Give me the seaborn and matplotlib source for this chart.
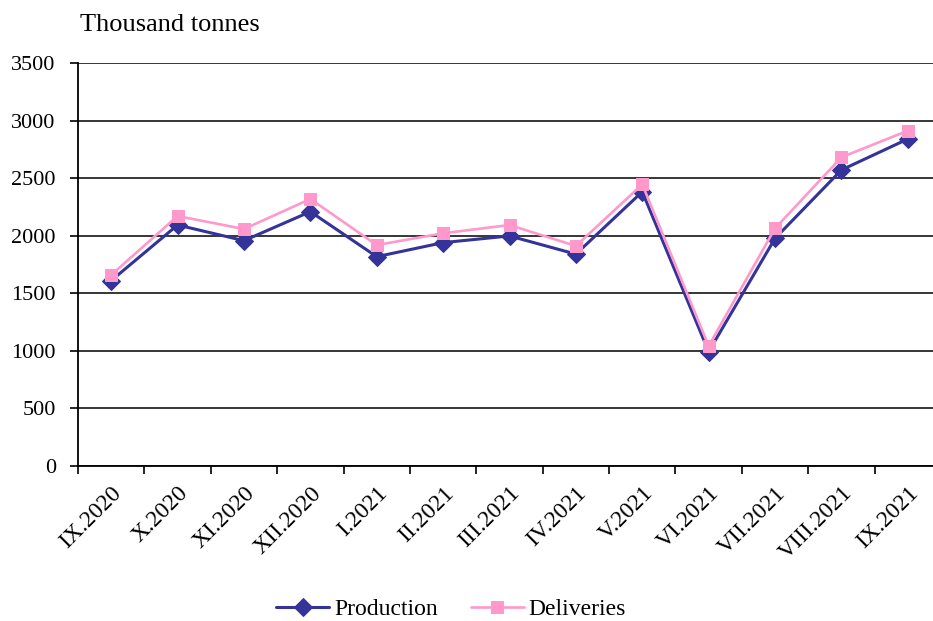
import matplotlib
matplotlib.use("Agg")
import matplotlib.pyplot as plt
import matplotlib.transforms as mtransforms
import seaborn as sns
import pandas as pd

months = ["IX.2020", "X.2020", "XI.2020", "XII.2020", "I.2021", "II.2021", "III.2021",
          "IV.2021", "V.2021", "VI.2021", "VII.2021", "VIII.2021", "IX.2021"]
production = [1610, 2093, 1957, 2209, 1818, 1940, 1998, 1840, 2382, 993, 1977, 2571, 2840]
deliveries = [1659, 2171, 2058, 2319, 1919, 2021, 2093, 1911, 2446, 1042, 2064, 2681, 2912]
yticks = [0, 500, 1000, 1500, 2000, 2500, 3000, 3500]

sns.set_style("white")
plt.rcParams['font.family'] = ['Liberation Serif', 'DejaVu Serif']
plt.rcParams['text.color'] = 'black'
plt.rcParams['xtick.color'] = 'black'
plt.rcParams['ytick.color'] = 'black'

df = pd.DataFrame({"idx": list(range(len(months))), "Production": production, "Deliveries": deliveries})

fig = plt.figure(figsize=(9.33, 6.21), dpi=100)
ax = fig.add_axes([78/933, 155/621, 863/933, 403/621])

sns.lineplot(data=df, x="idx", y="Production", ax=ax, color="#333399", marker="D",
             markersize=9, markeredgecolor="#333399", linewidth=2.2, label="Production", zorder=3)
sns.lineplot(data=df, x="idx", y="Deliveries", ax=ax, color="#FF99CC", marker="s",
             markersize=9, markeredgecolor="#FF99CC", linewidth=1.9, label="Deliveries", zorder=4)

ax.set_xlim(-0.5, len(months) - 0.5)
ax.set_ylim(0, 3500)
ax.set_yticks(yticks)
ax.set_yticklabels([str(v) for v in yticks], fontsize=16)
ax.yaxis.grid(True, color="black", linewidth=1.1)
ax.set_axisbelow(True)

ax.set_xticks([i - 0.5 for i in range(len(months) + 1)])
ax.set_xticklabels([])
ax.set_xticks(list(range(len(months))), minor=True)
ax.set_xticklabels(months, minor=True, rotation=45, ha="right", va="top",
                   rotation_mode="anchor", fontsize=17)
offset = mtransforms.ScaledTranslation(-6/100, 0, fig.dpi_scale_trans)
for lab in ax.get_xticklabels(minor=True):
    lab.set_transform(lab.get_transform() + offset)
ax.tick_params(axis="x", which="major", direction="out", length=6, width=1.2, color="black", bottom=True)
ax.tick_params(axis="x", which="minor", length=0, pad=12)
ax.tick_params(axis="y", direction="out", length=6, width=1.2, color="black", left=True, pad=10)

for s in ["top", "right"]:
    ax.spines[s].set_visible(False)
for s in ["left", "bottom"]:
    ax.spines[s].set_color("black")
    ax.spines[s].set_linewidth(1.3)

ax.set_xlabel("")
ax.set_ylabel("")
fig.text(80/933, 1 - 25/621, "Thousand tonnes", fontsize=19, ha="left", va="center")

ax.get_legend().remove()
handles, labels = ax.get_legend_handles_labels()
fig.legend(handles, labels, loc="center", bbox_to_anchor=(451/933, 1 - 609/621), ncol=2,
           frameon=False, fontsize=17, handlelength=2.25, columnspacing=1.4, handletextpad=0.2)

fig.savefig("out.png", dpi=100)
